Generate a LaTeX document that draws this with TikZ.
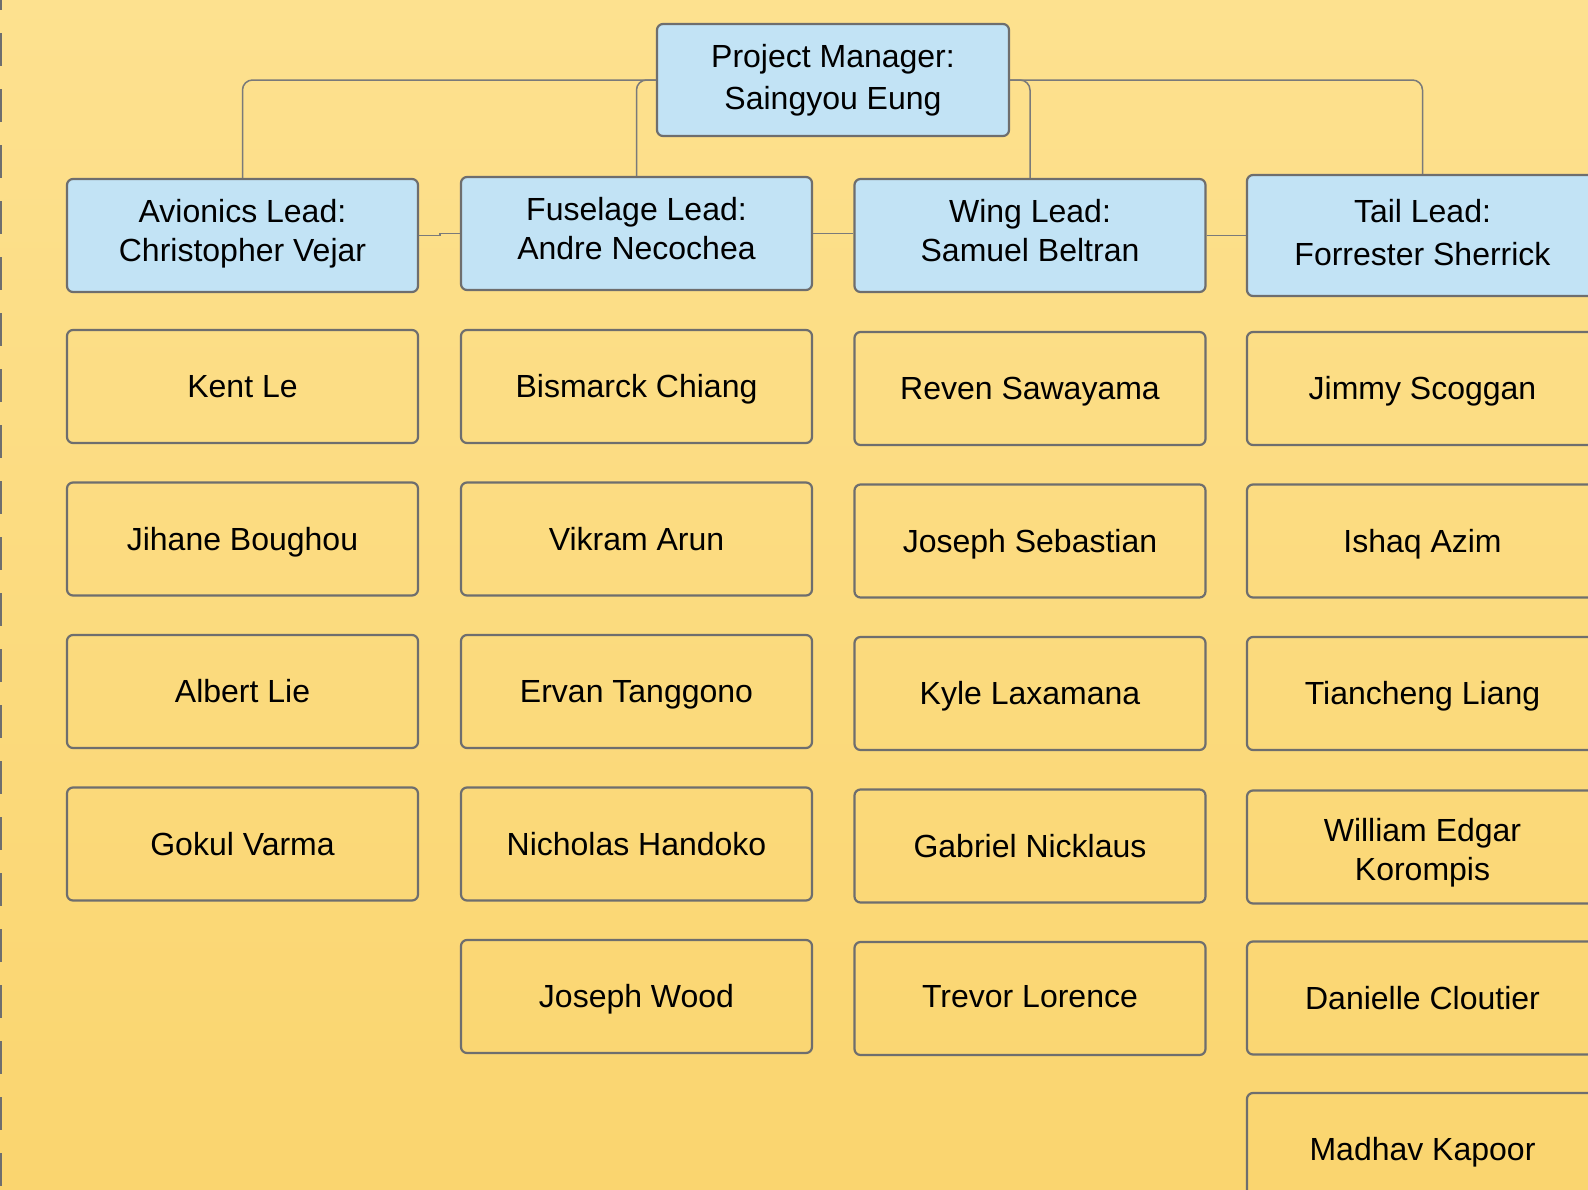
\documentclass[tikz,border=0pt]{standalone}
\usepackage{fontspec}
\setmainfont{Liberation Sans}
\usetikzlibrary{positioning,calc}

\definecolor{bgtop}{HTML}{FDE18F}
\definecolor{bgbottom}{HTML}{FAD56F}
\definecolor{leadblue}{HTML}{C2E3F5}
\definecolor{boxline}{HTML}{6E6E6E}
\definecolor{linkline}{HTML}{7A7A7A}

\tikzset{
    member/.style={draw=boxline, line width=2.2pt, rounded corners=6pt,
        minimum width=351pt, minimum height=113pt, inner sep=0pt,
        text height=26pt, text depth=4pt,
        align=center, font=\fontsize{32}{38.5}\selectfont},
    lead/.style={draw=boxline, line width=2.2pt, rounded corners=6pt,
        minimum width=351pt, minimum height=113pt, inner sep=0pt,
        text height=56pt, text depth=4pt,
        fill=leadblue, align=center, font=\fontsize{32}{39}\selectfont},
    widelead/.style={lead, text height=63.5pt, font=\fontsize{32}{42.5}\selectfont},
    link/.style={draw=linkline, line width=1.5pt, rounded corners=10pt},
}

\begin{document}
\begin{tikzpicture}[x=1pt, y=-1pt]
    \useasboundingbox (0,0) rectangle (1588,1189);
    \clip (0,0) rectangle (1588,1189);

    \shade[top color=bgtop, bottom color=bgbottom] (0,0) rectangle (1588,1189);
    \draw[boxline, line width=2.5pt, dash pattern=on 33pt off 23pt, dash phase=23pt] (1,0) -- (1,1189);

    % manager and leads
    \node[widelead, minimum height=112pt, minimum width=352pt] (pm) at (833,80) {Project Manager:\\Saingyou Eung};

    \node[lead] (avionics) at (242.5,235.5) {Avionics Lead:\\Christopher Vejar};
    \node[lead] (fuselage) at (636.5,233.5) {Fuselage Lead:\\Andre Necochea};
    \node[lead] (wing) at (1030,235.5) {Wing Lead:\\Samuel Beltran};
    \node[widelead, minimum height=121pt] (tail) at (1422.5,235.5) {Tail Lead:\\Forrester Sherrick};

    % team members
    \foreach \who [count=\i] in {Kent Le, Jihane Boughou, Albert Lie, Gokul Varma} {
        \node[member] (av-\i) at (242.5, {386.5+152.5*(\i-1)}) {\who};
    }
    \foreach \who [count=\i] in {Bismarck Chiang, Vikram Arun, Ervan Tanggono, Nicholas Handoko, Joseph Wood} {
        \node[member] (fu-\i) at (636.5, {386.5+152.5*(\i-1)}) {\who};
    }
    \foreach \who [count=\i] in {Reven Sawayama, Joseph Sebastian, Kyle Laxamana, Gabriel Nicklaus} {
        \node[member] (wi-\i) at (1030, {388.5+152.5*(\i-1)}) {\who};
    }
    \node[member, text depth=8pt] (wi-5) at (1030,998.5) {Trevor Lorence};
    \foreach \who [count=\i] in {Jimmy Scoggan, Ishaq Azim, Tiancheng Liang} {
        \node[member] (ta-\i) at (1422.5, {388.5+152.5*(\i-1)}) {\who};
    }
    \node[member, text height=70.5pt] (ta-4) at (1422.5,847) {William Edgar\\Korompis};
    \node[member] (ta-5) at (1422.5,998) {Danielle Cloutier};
    \node[member] (ta-6) at (1422.5,1149.5) {Madhav Kapoor};

    % connectors
    \draw[link] (pm.west) -| (avionics.north);
    \draw[link] (pm.west) -| (fuselage.north);
    \draw[link] (pm.east) -| (wing.north);
    \draw[link] (pm.east) -| (tail.north);

    \draw[link, sharp corners] (fuselage.west) -- ++(-20,0) |- (avionics.east);
    \draw[link] (fuselage.east) -- (fuselage.east -| wing.west);
    \draw[link] (wing.east) -- (wing.east -| tail.west);
\end{tikzpicture}
\end{document}
